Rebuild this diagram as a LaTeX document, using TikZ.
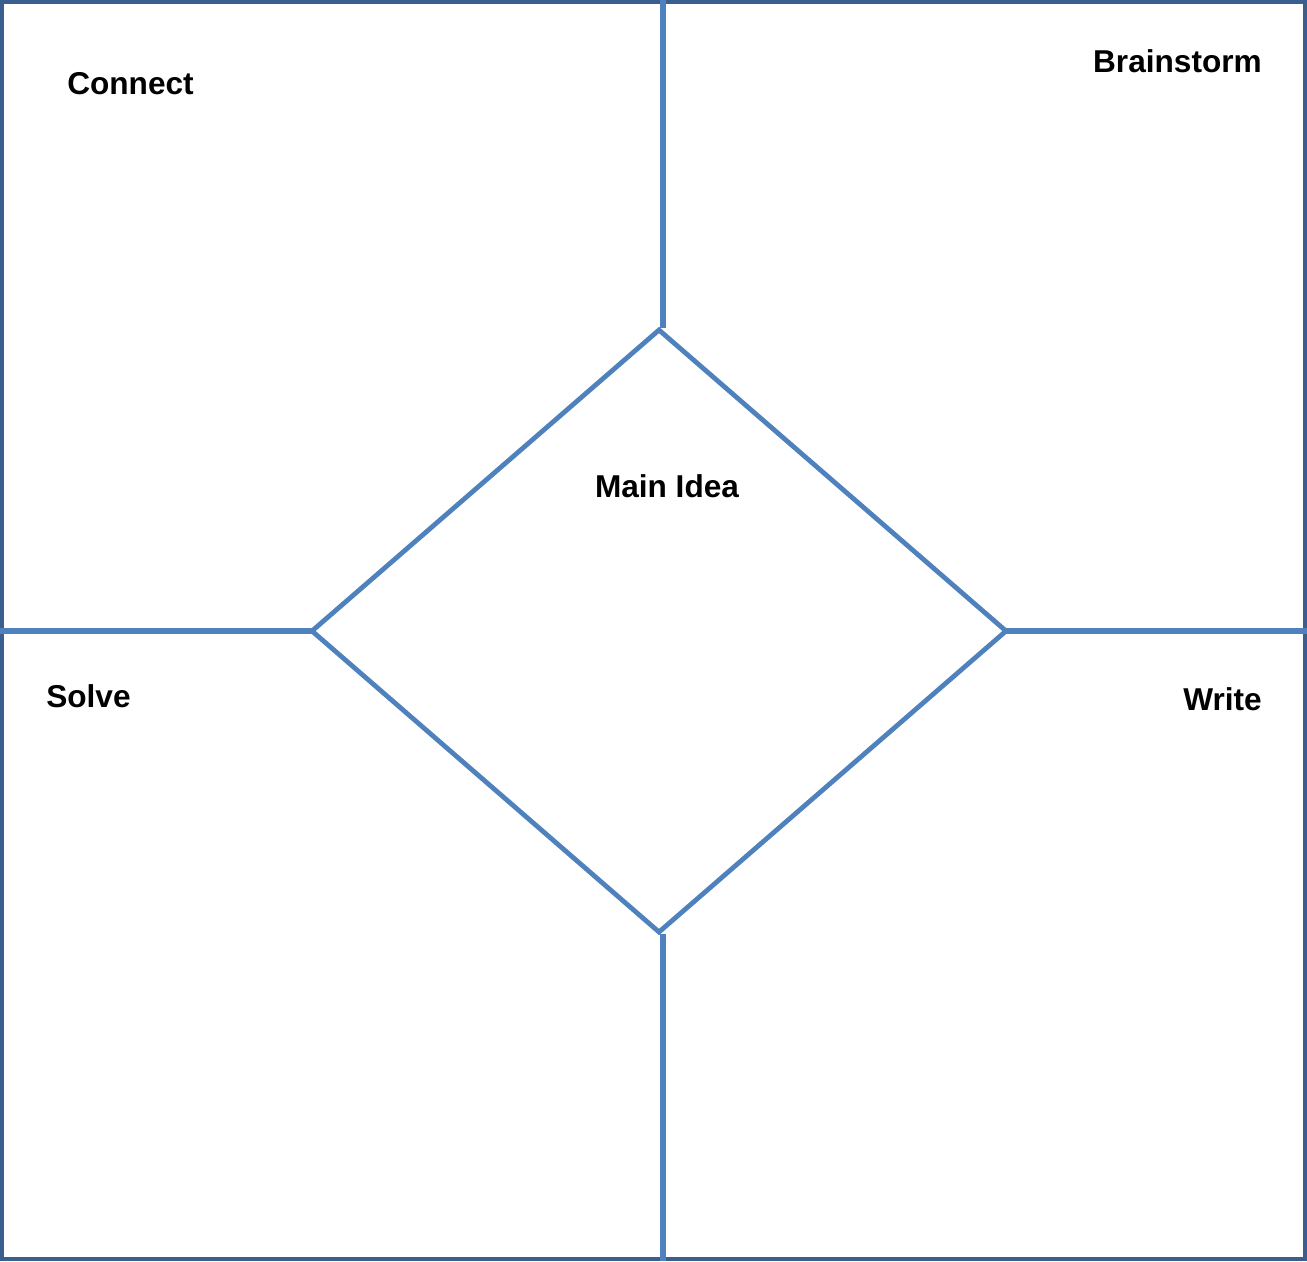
\documentclass[tikz,border=0pt]{standalone}
\usepackage{fontspec}
\setmainfont{Liberation Sans}
\usetikzlibrary{shapes.geometric}
\definecolor{frameblue}{RGB}{58, 95, 143}
\definecolor{lineblue}{RGB}{79, 129, 189}

\begin{document}
\begin{tikzpicture}[
  x=0.75pt, y=-0.75pt,
  every node/.style={font=\fontsize{23.7}{28}\selectfont\bfseries, text=black},
  frameline/.style={draw=frameblue, line width=3pt},
  spoke/.style={lineblue, line width=5pt},
  idea/.style={
    diamond, draw=lineblue, line width=3.6pt,
    minimum width=520.5pt, minimum height=451.5pt,
    inner sep=0pt, outer sep=0pt,
  },
]

\useasboundingbox (0,0) rectangle (1307,1261);

% Frame
\draw[frameline] (2,2) rectangle (1305,1259);
\coordinate (ftop) at (663,0);
\coordinate (fbot) at (663,1261);
\coordinate (fleft) at (0,631);
\coordinate (fright) at (1307,631);

% Diamond
\node[idea] (main) at (659,631) {};

% Spokes
\draw[spoke] (main.north -| ftop) ++(0,-2) -- (ftop);
\draw[spoke] (main.south -| fbot) ++(0,2) -- (fbot);
\draw[spoke] (main.west) -- (fleft);
\draw[spoke] (main.east) -- (fright);

% Labels
\foreach \nm/\anc/\x/\y/\txt in {
  conn/base west/67/94/Connect,
  brain/base east/1262/72/Brainstorm,
  idea/base/667/497/Main Idea,
  solve/base west/46/707/Solve,
  write/base east/1262/710/Write%
}{
  \node[anchor=\anc, inner sep=0pt] (l\nm) at (\x,\y) {\txt};
}

\end{tikzpicture}
\end{document}
